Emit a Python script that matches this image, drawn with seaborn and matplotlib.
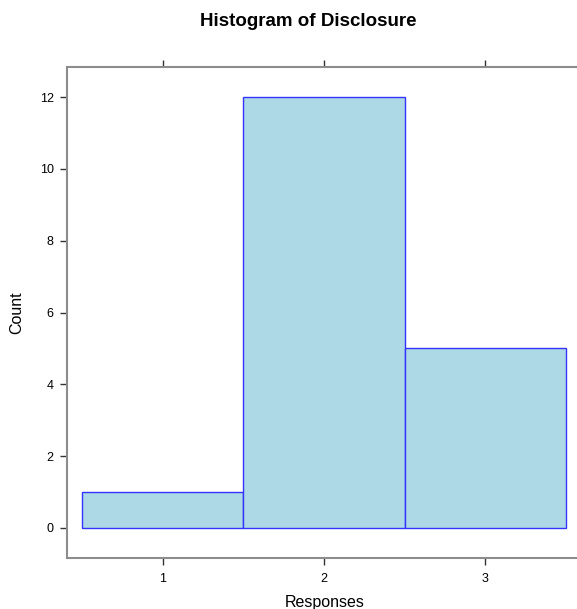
import matplotlib
matplotlib.use("Agg")
import matplotlib.pyplot as plt
import seaborn as sns
import pandas as pd

# Data
responses = [1, 2, 3]
counts = [1, 12, 5]
x_ticks = [1, 2, 3]
y_ticks = [0, 2, 4, 6, 8, 10, 12]
title = "Histogram of Disclosure"
xlabel = "Responses"
ylabel = "Count"

sns.set_style("white")
plt.rcParams['font.family'] = ['Liberation Sans', 'DejaVu Sans']
plt.rcParams['text.color'] = 'black'

df = pd.DataFrame({"Responses": responses, "Count": counts})

W, H = 577, 609
fig = plt.figure(figsize=(W/100, H/100), dpi=100)
ax = fig.add_axes([67/W, 51/H, (581-67)/W, (558-67)/H])

sns.histplot(data=df, x="Responses", weights="Count", discrete=True,
             color="#ADD8E6", edgecolor="#3333FF", linewidth=1.0, alpha=1.0, ax=ax)

ax.set_xlim(0.404, 3.596)
ax.set_ylim(-0.84, 12.84)
ax.set_xticks(x_ticks)
ax.set_yticks(y_ticks)
ax.set_xticklabels([str(t) for t in x_ticks], fontsize=9)
ax.set_yticklabels([str(t) for t in y_ticks], fontsize=9)
ax.set_xlabel("")
ax.set_ylabel("")
ax.set_title("")

for s in ax.spines.values():
    s.set_color("#8c8c8c")
    s.set_linewidth(1.5)

ax.tick_params(axis="x", which="both", direction="out", length=5, width=1,
               color="#333333", labelcolor="black", top=True, bottom=True,
               labeltop=False, pad=5.5)
ax.tick_params(axis="y", which="both", direction="out", length=5, width=1,
               color="#333333", labelcolor="black", left=True, right=False, pad=4.5)
ax.grid(False)

fig.text(308/W, 1 - 22/H, title, ha="center", va="center",
         fontsize=13.5, fontweight="bold", color="black")
fig.text(325/W, 1 - 603/H, xlabel, ha="center", va="center", fontsize=11.5,
         color="black")
fig.text(17/W, 1 - 313/H, ylabel, ha="center", va="center", fontsize=11.5,
         rotation=90, color="black")

fig.savefig("out.png", dpi=100)
